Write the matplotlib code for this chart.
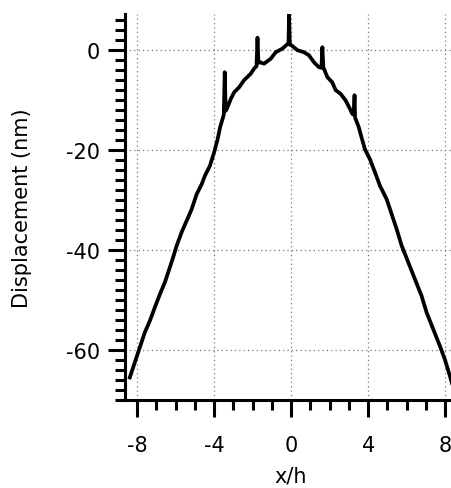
"""
Perfil de desplazamiento medido a lo largo de x/h.
Genera out.png (452x489 px).
"""

import matplotlib.pyplot as plt
from matplotlib.ticker import MultipleLocator

# Perfil (x/h, desplazamiento en nm)
x_h = [
    -8.38, -8.12, -7.86, -7.60, -7.34, -7.08, -6.82, -6.56, -6.30, -6.13,
    -5.95, -5.69, -5.43, -5.17, -4.91, -4.65, -4.48, -4.22, -4.00, -3.82,
    -3.69, -3.56, -3.50, -3.45, -3.40, -3.34, -3.13, -2.96, -2.70, -2.45,
    -2.10, -1.93, -1.80, -1.75, -1.70, -1.62, -1.41, -1.06, -0.80, -0.46,
    -0.23, -0.14, -0.11, -0.07, 0.01, 0.32, 0.66, 0.92, 1.18, 1.44,
    1.57, 1.62, 1.67, 1.70, 1.88, 2.13, 2.31, 2.56, 2.82, 3.05,
    3.17, 3.24, 3.29, 3.32, 3.51, 3.65, 3.83, 4.09, 4.35, 4.61,
    4.96, 5.22, 5.48, 5.74, 6.08, 6.43, 6.77, 7.03, 7.38, 7.72,
    7.98, 8.24, 8.40,
]
displacement = [
    -65.5, -62.5, -59.5, -56.5, -54.2, -51.5, -48.9, -46.5, -43.5, -41.5,
    -39.2, -36.5, -34.2, -31.9, -28.9, -26.9, -25.2, -23.2, -20.5, -17.9,
    -15.5, -13.8, -13.0, -4.5, -12.2, -11.8, -9.8, -8.5, -7.5, -6.1,
    -4.8, -3.8, -3.3, 2.4, -2.6, -2.5, -2.8, -1.8, -0.5, 0.2,
    1.0, 1.2, 7.0, 1.0, 0.9, -0.1, -0.5, -1.1, -2.5, -3.5,
    -3.6, 0.5, -3.7, -3.8, -5.5, -6.5, -8.1, -8.8, -10.1, -11.8,
    -12.8, -13.0, -9.1, -13.6, -15.5, -17.5, -19.9, -21.9, -24.5, -27.2,
    -29.9, -32.9, -35.9, -39.2, -42.5, -45.9, -49.2, -52.5, -55.9, -59.2,
    -61.9, -65.2, -67.3,
]

x_ticks = [-8, -4, 0, 4, 8]
y_ticks = [0, -20, -40, -60]

plt.rcParams["font.family"] = "DejaVu Sans"
plt.rcParams["axes.unicode_minus"] = False

fig = plt.figure(figsize=(4.52, 4.89), dpi=100, facecolor="white")
ax = fig.add_axes([0.2765, 0.18, 0.7235, 0.789])

ax.plot(x_h, displacement, color="black", lw=2.7, solid_joinstyle="round")

ax.set_xlim(-8.63, 8.35)
ax.set_ylim(-70, 7.1)

ax.set_xticks(x_ticks)
ax.set_yticks(y_ticks)
ax.xaxis.set_minor_locator(MultipleLocator(1))
ax.yaxis.set_minor_locator(MultipleLocator(2))

for side in ("top", "right"):
    ax.spines[side].set_visible(False)
for side in ("left", "bottom"):
    ax.spines[side].set_linewidth(2.2)

ax.tick_params(which="major", direction="out", length=12, width=2.2,
               labelsize=15)
ax.tick_params(which="minor", direction="out", length=7, width=2.2)
ax.tick_params(axis="x", which="major", pad=13)
ax.tick_params(axis="y", which="major", pad=6)

ax.grid(True, which="major", color="#777777", lw=0.9, linestyle=(0, (1, 2.5)))
ax.set_axisbelow(True)

ax.set_xlabel("x/h", fontsize=15)
ax.set_ylabel("Displacement (nm)", fontsize=15)
ax.xaxis.set_label_coords(0.508, -0.17)
ax.yaxis.set_label_coords(-0.285, 0.5)

fig.savefig("out.png", dpi=100, facecolor="white")
